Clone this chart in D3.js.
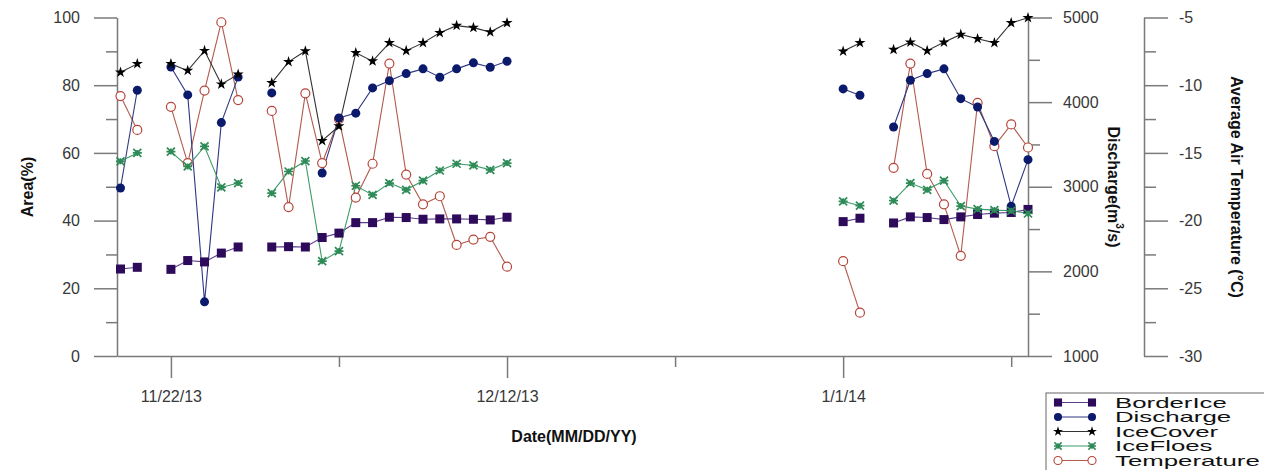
<!DOCTYPE html>
<html>

<head>
    <meta charset="utf-8">
    <title>Ice conditions and discharge</title>
    <script src="https://d3js.org/d3.v7.min.js"></script>
</head>
<style>
    body {
        margin: 0;
        background: #fff;
    }

    svg text {
        font-family: "Liberation Sans", Arial, sans-serif;
    }

    .axis path,
    .axis line {
        fill: none;
        stroke: #7a7a7a;
        stroke-width: 1.5px;
    }

    .axis text {
        font-size: 16px;
        fill: #383838;
    }

    .title {
        font-size: 16px;
        font-weight: bold;
        fill: #111;
    }
</style>

<body>
    <svg id="chart" width="1264" height="470"></svg>
    <script>
        // Observation days (gaps break the lines)
        var days = ["2013-11-19", "2013-11-20", "2013-11-22", "2013-11-23", "2013-11-24", "2013-11-25", "2013-11-26",
            "2013-11-28", "2013-11-29", "2013-11-30", "2013-12-01", "2013-12-02", "2013-12-03", "2013-12-04",
            "2013-12-05", "2013-12-06", "2013-12-07", "2013-12-08", "2013-12-09", "2013-12-10", "2013-12-11",
            "2013-12-12", "2014-01-01", "2014-01-02", "2014-01-04", "2014-01-05", "2014-01-06", "2014-01-07",
            "2014-01-08", "2014-01-09", "2014-01-10", "2014-01-11", "2014-01-12"];

        // Area (%)
        var borderIce = [25.7, 26.2, 25.6, 28.2, 27.8, 30.4, 32.2, 32.2, 32.3, 32.2, 35.0, 36.3, 39.4, 39.4,
            41.0, 40.9, 40.4, 40.5, 40.5, 40.4, 40.2, 41.0, 39.7, 40.7, 39.3, 41.1, 40.9, 40.3, 41.1, 41.8, 42.2, 42.4, 43.3];
        var iceCover = [83.8, 86.3, 86.3, 84.3, 90.2, 80.3, 83.2, 80.7, 86.9, 90.1, 63.6, 67.9, 89.6, 87.1,
            92.5, 90.2, 92.5, 95.5, 97.6, 97.0, 95.7, 98.4, 90.0, 92.5, 90.5, 92.7, 90.2, 92.7, 95.0, 93.7, 92.5, 98.4, 99.9];
        var iceFloes = [57.5, 60.0, 60.4, 56.0, 61.9, 49.8, 51.1, 48.1, 54.5, 57.6, 28.0, 31.0, 50.3, 47.6,
            51.1, 49.1, 51.8, 54.8, 56.8, 56.3, 55.0, 57.0, 45.7, 44.4, 45.9, 51.1, 49.1, 51.8, 44.3, 43.4, 43.1, 42.9, 42.1];
        // Discharge (m3/s)
        var discharge = [2985, 4140, 4415, 4085, 1640, 3758, 4296, 4109, null, null, 3162, 3813, 3870, 4168,
            4254, 4337, 4393, 4294, 4393, 4464, 4412, 4483, 4156, 4081, 3706, 4258, 4337, 4393, 4041, 3943, 3536, 2770, 3320];
        // Average air temperature (C)
        var temperature = [-10.8, -13.3, -11.6, -15.75, -10.4, -5.35, -11.1, -11.9, -19.0, -10.6, -15.75, -12.5, -18.3, -15.8,
            -8.4, -16.6, -18.8, -18.2, -21.8, -21.4, -21.2, -23.4, -23.0, -26.8, -16.1, -8.4, -16.55, -18.8, -22.6, -11.3, -14.5, -12.9, -14.6];

        var areaTicks = [0, 20, 40, 60, 80, 100];
        var dischargeTicks = [1000, 2000, 3000, 4000, 5000];
        var tempTicks = [-30, -25, -20, -15, -10, -5];
        var dateTicks = ["2013-11-22", "2013-12-12", "2014-01-01"];
        var dateMinorTicks = ["2013-12-02", "2013-12-22", "2014-01-11"];

        var parse = d3.timeParse("%Y-%m-%d");
        var dates = days.map(parse);

        var svg = d3.select("#chart");

        var plotLeft = 117, plotRight = 1028, plotTop = 17.5, plotBottom = 356;

        var x = d3.scaleTime()
            .domain([new Date(2013, 10, 18, 19), parse("2014-01-12")])
            .range([plotLeft, plotRight]);
        var yArea = d3.scaleLinear().domain([0, 100]).range([plotBottom, plotTop]);
        var yDis = d3.scaleLinear().domain([1000, 5000]).range([plotBottom, plotTop]);
        var yTemp = d3.scaleLinear().domain([-30, -5]).range([plotBottom, plotTop]);

        function minors(ticks) {
            var out = [];
            for (var i = 0; i < ticks.length - 1; i++) out.push((ticks[i] + ticks[i + 1]) / 2);
            return out;
        }

        // X axis
        svg.append("g").attr("class", "axis")
            .attr("transform", "translate(0," + plotBottom + ")")
            .call(d3.axisBottom(x).tickValues(dateTicks.map(parse)).tickSize(22).tickSizeOuter(0)
                .tickPadding(13).tickFormat(d3.timeFormat("%-m/%-d/%y")));
        svg.append("g").attr("class", "axis")
            .attr("transform", "translate(0," + plotBottom + ")")
            .call(d3.axisBottom(x).tickValues(dateMinorTicks.map(parse)).tickSize(11).tickFormat(""))
            .select(".domain").remove();

        // Left axis
        svg.append("g").attr("class", "axis")
            .attr("transform", "translate(" + plotLeft + ",0)")
            .call(d3.axisLeft(yArea).tickValues(areaTicks).tickSize(23).tickSizeOuter(0).tickPadding(14));
        svg.append("g").attr("class", "axis")
            .attr("transform", "translate(" + plotLeft + ",0)")
            .call(d3.axisLeft(yArea).tickValues(minors(areaTicks)).tickSize(11).tickFormat(""))
            .select(".domain").remove();

        // Discharge axis
        svg.append("g").attr("class", "axis")
            .attr("transform", "translate(" + plotRight + ",0)")
            .call(d3.axisRight(yDis).tickValues(dischargeTicks).tickSize(24).tickSizeOuter(0).tickPadding(11)
                .tickFormat(function(d) { return String(d); }));
        svg.append("g").attr("class", "axis")
            .attr("transform", "translate(" + plotRight + ",0)")
            .call(d3.axisRight(yDis).tickValues(minors(dischargeTicks)).tickSize(12).tickFormat(""))
            .select(".domain").remove();

        // Temperature axis
        var tempX = 1144;
        svg.append("g").attr("class", "axis")
            .attr("transform", "translate(" + tempX + ",0)")
            .call(d3.axisRight(yTemp).tickValues(tempTicks).tickSize(24).tickSizeOuter(0).tickPadding(11)
                .tickFormat(function(d) { return String(d); }));
        svg.append("g").attr("class", "axis")
            .attr("transform", "translate(" + tempX + ",0)")
            .call(d3.axisRight(yTemp).tickValues(minors(tempTicks)).tickSize(12).tickFormat(""))
            .select(".domain").remove();

        // Axis titles
        svg.append("text").attr("class", "title")
            .attr("transform", "translate(27,187) rotate(-90)")
            .attr("text-anchor", "middle").attr("dominant-baseline", "central")
            .text("Area(%)");
        var dTitle = svg.append("text").attr("class", "title")
            .attr("transform", "translate(1114,187) rotate(90)")
            .attr("text-anchor", "middle").attr("dominant-baseline", "central");
        dTitle.append("tspan").text("Discharge(m");
        dTitle.append("tspan").attr("font-size", "10px").attr("dy", "-6").text("3");
        dTitle.append("tspan").attr("dy", "6").text("/s)");
        svg.append("text").attr("class", "title")
            .attr("transform", "translate(1236,187) rotate(90)")
            .attr("text-anchor", "middle").attr("dominant-baseline", "central")
            .text("Average Air Temperature (\u00B0C)");
        svg.append("text").attr("class", "title")
            .attr("x", 574).attr("y", 442)
            .attr("text-anchor", "middle")
            .text("Date(MM/DD/YY)");

        // Markers
        function marker(g, type, color) {
            if (type === "square") {
                g.append("rect").attr("x", -4.5).attr("y", -4.5).attr("width", 9).attr("height", 9).attr("fill", color);
            } else if (type === "circle") {
                g.append("circle").attr("r", 4.5).attr("fill", color);
            } else if (type === "star") {
                g.append("path").attr("d", d3.symbol(d3.symbolStar, 38)()).attr("fill", color);
            } else if (type === "asterisk") {
                g.append("path").attr("d", "M-4,-4L4,4M-4,4L4,-4M-4.5,0L4.5,0M0,-3L0,3")
                    .attr("stroke", color).attr("stroke-width", 1.7).attr("fill", "none");
            } else {
                g.append("circle").attr("r", 4.5).attr("fill", "#fff")
                    .attr("stroke", color).attr("stroke-width", 1.2);
            }
        }

        var series = [
            { name: "BorderIce", values: borderIce, y: yArea, type: "square", color: "#2d0b5a", line: "#5b3f8c" },
            { name: "Discharge", values: discharge, y: yDis, type: "circle", color: "#0b1a6b", line: "#2f3782" },
            { name: "IceCover", values: iceCover, y: yArea, type: "star", color: "#000", line: "#333" },
            { name: "IceFloes", values: iceFloes, y: yArea, type: "asterisk", color: "#2e8b57", line: "#3d9b6a" },
            { name: "Temperature", values: temperature, y: yTemp, type: "open", color: "#b5453a", line: "#b25a4e" }
        ];

        // break a series into runs of consecutive days
        function segments(values) {
            var segs = [], cur = [];
            values.forEach(function(v, i) {
                var gap = i > 0 && (dates[i] - dates[i - 1]) > 1.5 * 864e5;
                if (v == null || gap) {
                    if (cur.length) segs.push(cur);
                    cur = [];
                }
                if (v != null) cur.push({ date: dates[i], value: v });
            });
            if (cur.length) segs.push(cur);
            return segs;
        }

        var drawOrder = [4, 0, 1, 3, 2];
        drawOrder.forEach(function(k) {
            var s = series[k];
            var line = d3.line()
                .x(function(d) { return x(d.date); })
                .y(function(d) { return s.y(d.value); });
            svg.append("g").selectAll("path")
                .data(segments(s.values).filter(function(seg) { return seg.length > 1; }))
                .enter().append("path")
                .attr("d", line)
                .attr("fill", "none")
                .attr("stroke", s.line)
                .attr("stroke-width", 1.1);
        });
        drawOrder.forEach(function(k) {
            var s = series[k];
            s.values.forEach(function(v, i) {
                if (v == null) return;
                var g = svg.append("g").attr("transform", "translate(" + x(dates[i]) + "," + s.y(v) + ")");
                marker(g, s.type, s.color);
            });
        });

        // Legend
        svg.append("rect")
            .attr("x", 1046).attr("y", 393).attr("width", 240).attr("height", 100)
            .attr("fill", "#fff").attr("stroke", "#666").attr("stroke-width", 1);
        series.forEach(function(s, i) {
            var ly = 402.5 + i * 14.5;
            svg.append("line")
                .attr("x1", 1058).attr("x2", 1092).attr("y1", ly).attr("y2", ly)
                .attr("stroke", s.line).attr("stroke-width", 1.1);
            [1058, 1092].forEach(function(mx) {
                var g = svg.append("g").attr("transform", "translate(" + mx + "," + ly + ") scale(0.9)");
                marker(g, s.type, s.color);
            });
            svg.append("text")
                .attr("transform", "translate(1115," + ly + ") scale(1.72,1)")
                .attr("dominant-baseline", "central")
                .attr("font-size", "15px")
                .attr("fill", "#111")
                .text(s.name);
        });
    </script>
</body>

</html>
